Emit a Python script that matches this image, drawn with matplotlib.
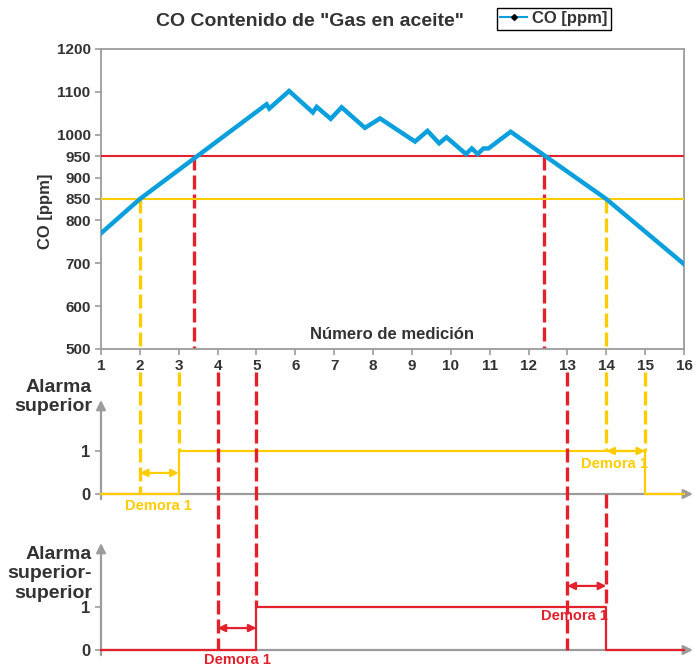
import numpy as np
import matplotlib
matplotlib.use('Agg')
import matplotlib.pyplot as plt
from matplotlib.lines import Line2D

plt.rcParams['font.family'] = ['Liberation Sans Narrow', 'Liberation Sans', 'DejaVu Sans']
plt.rcParams['font.weight'] = 'bold'

# CO readings (measurement number vs ppm)
meas = [1, 2, 5.26, 5.33, 5.84, 6.45, 6.55, 6.91, 7.19, 7.79, 8.18, 9.08, 9.4,
        9.70, 9.89, 10.39, 10.54, 10.69, 10.84, 10.97, 11.54, 14, 16]
co_ppm = [770, 850, 1071, 1061, 1102, 1052, 1065, 1037, 1064, 1016, 1038, 984, 1009,
          980, 994, 955, 968, 955, 968, 968, 1007, 850, 698]

hi_limit = 850
hh_limit = 950
hi_cross = [2, 14]        # CO crosses the 850 limit
hh_cross = [3.4, 12.4]    # CO crosses the 950 limit
hi_alarm = [3, 15]        # alarm on / off after delay
hh_alarm = [5, 14]
yticks_top = [500, 600, 700, 800, 850, 900, 950, 1000, 1100, 1200]

blue = '#0ba0dd'
yellow = '#ffcc00'
red = '#e3212d'
gray = '#9c9c9c'
dark = '#333333'

fig = plt.figure(figsize=(7, 6.66), dpi=100)

# ---- top chart
ax1 = fig.add_axes([101/700, 1-349/666, 583/700, 300/666])
ax1.plot(meas, co_ppm, color=blue, lw=3.2, zorder=4, solid_joinstyle='miter')
ax1.axhline(hh_limit, color=red, lw=1.5, zorder=3)
ax1.axhline(hi_limit, color=yellow, lw=1.5, zorder=3)
for x in hh_cross:
    ax1.plot([x, x], [hh_limit, 500], color=red, lw=2.4, ls=(0, (4.2, 1.5)), zorder=2)
for x in hi_cross:
    ax1.plot([x, x], [hi_limit, 500], color=yellow, lw=2.4, ls=(0, (4.2, 1.5)), zorder=2)

ax1.set_xlim(1, 16)
ax1.set_ylim(500, 1200)
ax1.set_xticks(range(1, 17))
ax1.set_yticks(yticks_top)
ax1.tick_params(colors=gray, labelcolor=dark, labelsize=11, length=4, width=1.2)
for s in ax1.spines.values():
    s.set_color(gray)
    s.set_linewidth(1.3)
ax1.set_ylabel('CO [ppm]', fontsize=12, color=dark, fontweight='bold')
ax1.yaxis.set_label_coords(-0.082, 0.46)
ax1.text(0.5, 0.047, 'Número de medición', transform=ax1.transAxes, ha='center',
         va='center', fontsize=12, color=dark)

fig.text(0.443, 0.968, 'CO Contenido de "Gas en aceite"', ha='center', va='center',
         fontsize=14, color=dark)
handle = Line2D([], [], color=blue, lw=1.5, marker='D', markersize=3,
                markerfacecolor='black', markeredgecolor='black')
leg = fig.legend([handle], ['CO [ppm]'], loc='upper left',
                 bbox_to_anchor=(497/700, 1-8/666), fancybox=False, framealpha=1,
                 edgecolor='black', fontsize=12, handlelength=1.6, handletextpad=0.3,
                 borderpad=0.2, borderaxespad=0)
leg.get_frame().set_linewidth(1.0)
for t in leg.get_texts():
    t.set_color(dark)


def alarm_axes(bottom_px, top_px):
    ax = fig.add_axes([101/700, 1-bottom_px/666, 583/700, (bottom_px-top_px)/666])
    ax.set_xlim(1, 16)
    ax.set_ylim(0, (bottom_px-top_px)/43)
    for s in ax.spines.values():
        s.set_visible(False)
    ax.set_xticks([])
    ax.set_yticks([0, 1])
    ax.tick_params(colors=gray, labelcolor=dark, labelsize=12, length=4, width=1.2)
    ax.patch.set_alpha(0)
    top = (bottom_px-top_px)/43
    ax.annotate('', xy=(16.23, 0), xytext=(1, 0), zorder=1, annotation_clip=False,
                arrowprops=dict(arrowstyle='-|>', color=gray, lw=1.6, mutation_scale=14,
                                shrinkA=0, shrinkB=0))
    ax.annotate('', xy=(1, top), xytext=(1, -0.12), zorder=1, annotation_clip=False,
                arrowprops=dict(arrowstyle='-|>', color=gray, lw=1.6, mutation_scale=14,
                                shrinkA=0, shrinkB=0))
    return ax


def step(on, off):
    return [1, on, on, off, off, 16], [0, 0, 1, 1, 0, 0]


def delay_arrow(ax, x0, x1, y, color):
    ax.annotate('', xy=(x1, y), xytext=(x0, y), annotation_clip=False,
                arrowprops=dict(arrowstyle='<|-|>', color=color, lw=1.6,
                                mutation_scale=11, shrinkA=0, shrinkB=0))


dash = (0, (4.2, 1.5))

# ---- high alarm
ax2 = alarm_axes(494, 400)
sx, sy = step(*hi_alarm)
ax2.plot(sx, sy, color=yellow, lw=1.6, clip_on=False, zorder=3)
ax2.plot([hi_cross[0]] * 2, [2.84, 0], color=yellow, lw=2.4, ls=dash, clip_on=False)
ax2.plot([hi_alarm[0]] * 2, [2.84, 1], color=yellow, lw=2.4, ls=dash, clip_on=False)
ax2.plot([hi_cross[1]] * 2, [2.84, 1], color=yellow, lw=2.4, ls=dash, clip_on=False)
ax2.plot([hi_alarm[1]] * 2, [2.84, 1], color=yellow, lw=2.4, ls=dash, clip_on=False)
delay_arrow(ax2, hi_cross[0], hi_alarm[0], 0.49, yellow)
delay_arrow(ax2, hi_cross[1], hi_alarm[1], 1.0, yellow)
ax2.text(2.47, -0.27, 'Demora 1', color=yellow, ha='center', va='center', fontsize=10.5)
ax2.text(14.2, 0.7, 'Demora 1', color=yellow, ha='center', va='center', fontsize=10.5)
fig.text(92/700, 1-397/666, 'Alarma\nsuperior', ha='right', va='center',
         fontsize=14, color=dark, linespacing=1.2)

# ---- high-high alarm
ax3 = alarm_axes(650, 543)
sx, sy = step(*hh_alarm)
ax3.plot(sx, sy, color=red, lw=1.6, clip_on=False, zorder=3)
ax3.plot([4] * 2, [6.47, 0], color=red, lw=2.4, ls=dash, clip_on=False)
ax3.plot([hh_alarm[0]] * 2, [6.47, 1], color=red, lw=2.4, ls=dash, clip_on=False)
ax3.plot([13] * 2, [6.47, 0], color=red, lw=2.4, ls=dash, clip_on=False)
ax3.plot([hh_alarm[1]] * 2, [3.63, 1], color=red, lw=2.4, ls=dash, clip_on=False)
delay_arrow(ax3, 4, hh_alarm[0], 0.51, red)
delay_arrow(ax3, 13, hh_alarm[1], 1.49, red)
ax3.text(4.5, -0.24, 'Demora 1', color=red, ha='center', va='center', fontsize=10.5)
ax3.text(13.17, 0.8, 'Demora 1', color=red, ha='center', va='center', fontsize=10.5)
fig.text(92/700, 1-574/666, 'Alarma\nsuperior-\nsuperior', ha='right', va='center',
         fontsize=14, color=dark, linespacing=1.2)

fig.savefig('out.png', dpi=100)
